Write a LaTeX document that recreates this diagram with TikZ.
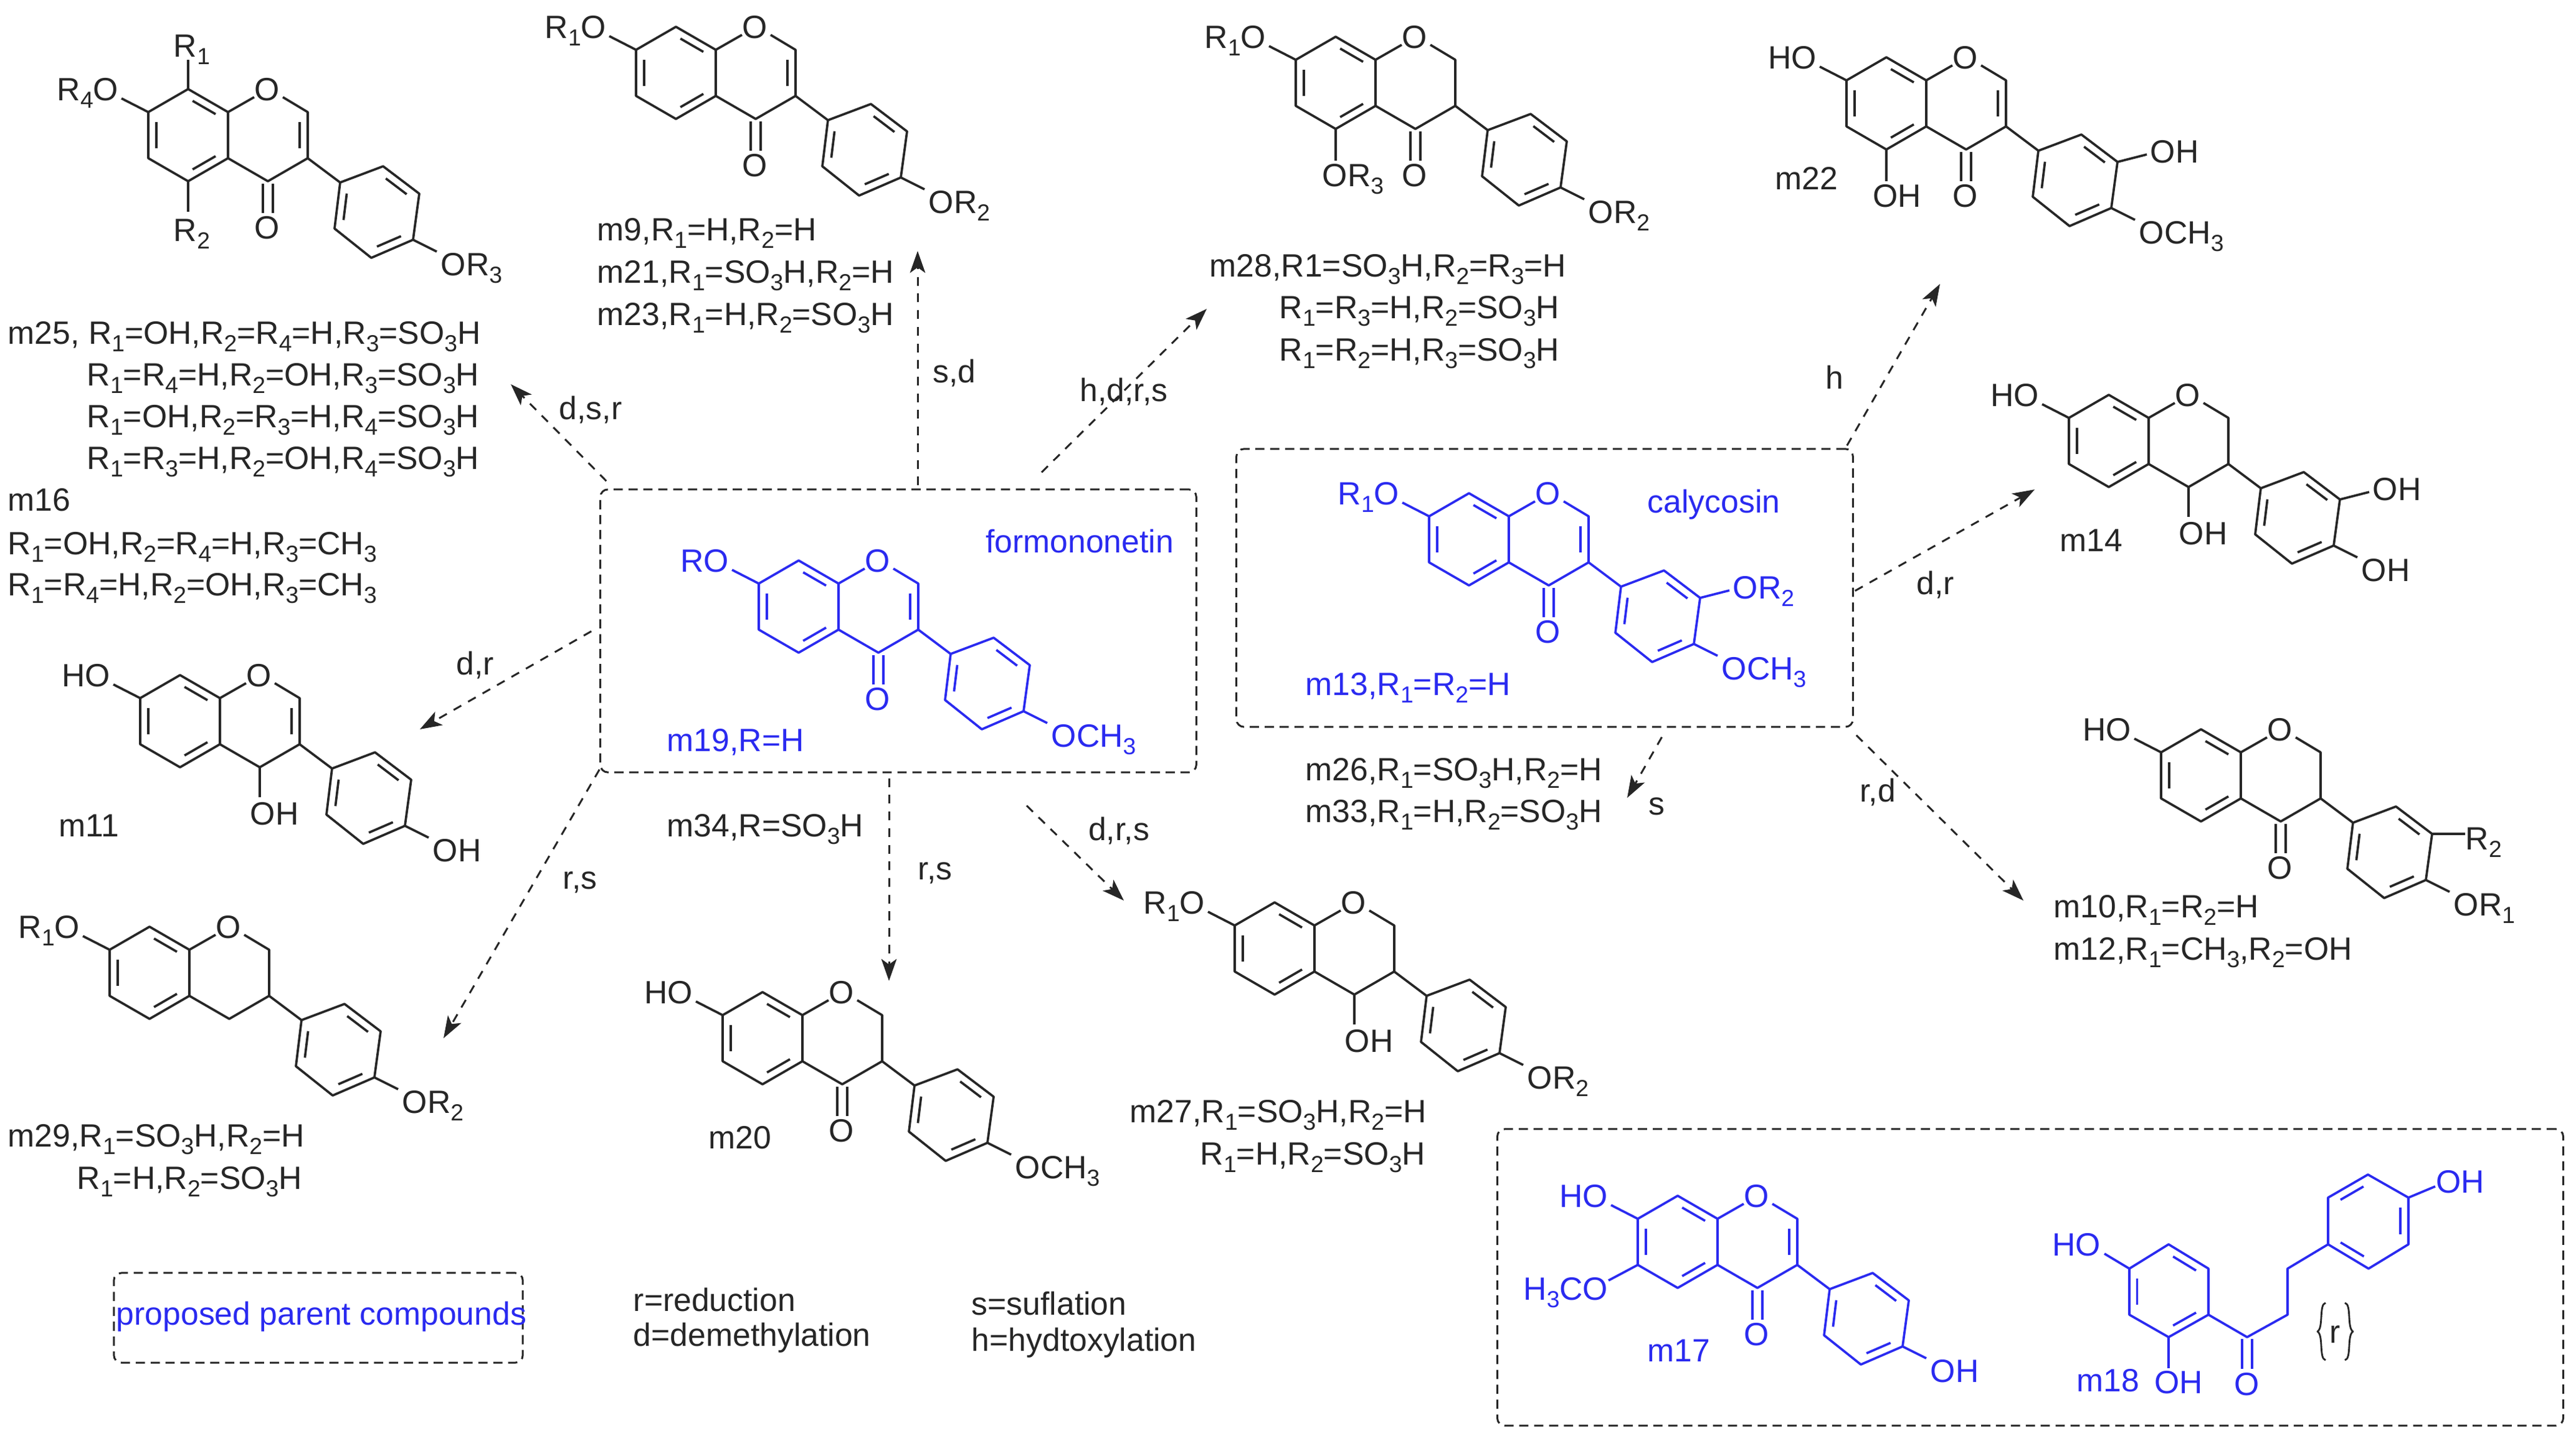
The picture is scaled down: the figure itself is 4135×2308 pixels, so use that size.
\documentclass[tikz,border=0pt]{standalone}
\usepackage{fontspec}
\setmainfont{Liberation Sans}
\usetikzlibrary{calc,arrows.meta}
\definecolor{ink}{HTML}{262626}
\definecolor{molblue}{HTML}{2A2AF0}
\newcounter{nn}
\newcommand\ssub[1]{\raisebox{-0.42ex}{\fontsize{10.6}{12}\selectfont #1}}
\newcommand\RA{R\ssub{1}}
\newcommand\RB{R\ssub{2}}
\newcommand\RC{R\ssub{3}}
\newcommand\RD{R\ssub{4}}
\newcommand\SOH{SO\ssub{3}H}
\newcommand\CHT{CH\ssub{3}}
\newcommand\tx[3][]{\stepcounter{nn}\node[lbl,#1] (n\arabic{nn}) at #2 {#3};}
\newcommand\dbl[3]{\draw ($(#1)!.14!(#2)!.2!(#3)$) -- ($(#2)!.14!(#1)!.2!(#3)$);}
\newcommand\atoms{%
  \coordinate (a1) at (0,0);\coordinate (a2) at (-64,-37);\coordinate (a3) at (-128,0);
  \coordinate (a4) at (-128,74);\coordinate (a5) at (-64,111);\coordinate (a6) at (0,74);
  \coordinate (c4) at (64,111);\coordinate (c3) at (128,74);\coordinate (c2) at (128,0);
  \coordinate (b1) at (180,113);\coordinate (b2) at (249,87);\coordinate (b3) at (307,131);
  \coordinate (b4) at (297,205);\coordinate (b5) at (230,234);\coordinate (b6) at (171,187);
  \coordinate (ca) at (-64,37);\coordinate (cp) at (64,37);\coordinate (cb) at (238,160);}
% ring A, pyran ring, ring B and the ring oxygen
\newcommand\molframe{%
  \draw (a1)--(a2)--(a3)--(a4)--(a5)--(a6)--cycle;
  \dbl{a1}{a2}{ca}\dbl{a3}{a4}{ca}\dbl{a5}{a6}{ca}
  \draw (a1) -- (42,-24);
  \draw (88,-24) -- (c2) -- (c3) -- (c4) -- (a6);
  \tx{(63,-37)}{O}
  \draw (c3) -- (b1);
  \draw (b1) -- (b2) -- (b3) -- (b4) -- (b5) -- (b6) -- cycle;
  \dbl{b1}{b6}{cb}\dbl{b2}{b3}{cb}\dbl{b4}{b5}{cb}}
\newcommand\ene{\dbl{c2}{c3}{cp}}
\newcommand\keto{\draw (56,115) -- (56,162);\draw (72,115) -- (72,162);\tx{(63,185)}{O}}
\newcommand\cOH{\draw (c4) -- ++(0,48);\tx[anchor=base west]{(47,185)}{OH}}
\newcommand\sevenO[1]{\draw (a3) -- ++(-43,-22);\tx[anchor=base east]{(-174,-37)}{#1}}
\newcommand\fourO[1]{\draw (b4) -- ++(38,19);\tx[anchor=base west]{(340,244)}{#1}}
\newcommand\threeO[1]{\draw (b3) -- ++(47,-12);\tx[anchor=base west]{(358,114)}{#1}}
\newcommand\mol[3]{\begin{scope}[shift={(#1,#2)}]\atoms\molframe #3\end{scope}}
\tikzset{
  lbl/.style={inner sep=0pt,anchor=base,yshift=-5.3pt,font=\fontsize{14.7}{18}\selectfont},
  arr/.style={ink,line width=0.85pt,dash pattern=on 4pt off 3.6pt,-{Stealth[length=10pt,width=7pt,inset=2.5pt]}},
  boxd/.style={draw=ink,line width=0.85pt,dash pattern=on 4.2pt off 2.6pt,rounded corners=3.4pt,inner sep=0pt}
}
\begin{document}
\begin{tikzpicture}[x=0.01cm,y=-0.01cm,color=ink,line width=1.05pt,line join=round]
\useasboundingbox (0,0) rectangle (4135,2308);
\fill[white] (0,0) rectangle (4135,2308);

% boxes
\node[boxd,minimum width=9.56cm,minimum height=4.54cm] (formbox) at (1442,1013) {};
\node[boxd,minimum width=9.89cm,minimum height=4.46cm] (calybox) at (2479.5,944) {};
\node[boxd,minimum width=17.10cm,minimum height=4.76cm] (parentbox) at (3259,2051) {};
\node[boxd,minimum width=6.56cm,minimum height=1.44cm] (propbox) at (511,2116) {};

% molecules
\mol{366}{180}{\ene\keto\sevenO{\RD O}\fourO{OR\ssub{3}}
  \draw (a2) -- ++(0,-47);\draw (a5) -- ++(0,49);
  \tx{(-58,-107)}{\RA}\tx{(-58,189)}{\RB}}
\mol{1149}{80}{\ene\keto\sevenO{\RA O}\fourO{OR\ssub{2}}}
\mol{2208}{96}{\keto\sevenO{\RA O}\fourO{OR\ssub{2}}
  \draw (a5) -- ++(0,51);\tx{(-36,185)}{OR\ssub{3}}}
\mol{3092}{129}{\ene\keto\sevenO{HO}\fourO{O\CHT}\threeO{OH}
  \draw (a5) -- ++(0,51);\tx{(-47,185)}{OH}}
\mol{3449}{671}{\cOH\sevenO{HO}\fourO{OH}\threeO{OH}}
\mol{353}{1121}{\ene\cOH\sevenO{HO}\fourO{OH}}
\mol{304}{1525}{\sevenO{\RA O}\fourO{OR\ssub{2}}}
\mol{1288}{1630}{\keto\sevenO{HO}\fourO{O\CHT}}
\mol{2110}{1486}{\cOH\sevenO{\RA O}\fourO{OR\ssub{2}}}
\mol{3597}{1208}{\keto\sevenO{HO}\fourO{OR\ssub{1}}
  \draw (b3) -- ++(53,0);\tx[anchor=base west]{(359,138)}{\RB}}

\begin{scope}[color=molblue]
\mol{1346}{937}{\ene\keto\sevenO{RO}\fourO{O\CHT}}
\mol{2422}{829}{\ene\keto\sevenO{\RA O}\fourO{O\CHT}\threeO{OR\ssub{2}}}
\mol{2757}{1957}{\ene\keto\sevenO{HO}\fourO{OH}
  \draw (a4) -- ++(-47,25);\tx[anchor=base east]{(-174,112)}{H\ssub{3}CO}}
% m18
\coordinate (p1) at (3418,2037);\coordinate (p2) at (3481,1998);\coordinate (p3) at (3545,2037);
\coordinate (p4) at (3545,2111);\coordinate (p5) at (3481,2147);\coordinate (p6) at (3418,2111);
\coordinate (pc) at (3481,2074);
\coordinate (q1) at (3737,1998);\coordinate (q2) at (3737,1923);\coordinate (q3) at (3801,1886);
\coordinate (q4) at (3866,1923);\coordinate (q5) at (3866,1998);\coordinate (q6) at (3802,2037);
\coordinate (qc) at (3801,1961);
\draw (p1)--(p2)--(p3)--(p4)--(p5)--(p6)--cycle;
\dbl{p2}{p3}{pc}\dbl{p1}{p6}{pc}\dbl{p4}{p5}{pc}
\draw (q1)--(q2)--(q3)--(q4)--(q5)--(q6)--cycle;
\dbl{q2}{q3}{qc}\dbl{q4}{q5}{qc}\dbl{q6}{q1}{qc}
\draw (p4) -- (3607,2147) -- (3672,2111) -- (3672,2037) -- (q1);
\draw (3599,2150) -- (3599,2198);\draw (3615,2150) -- (3615,2198);
\draw (p5) -- (3481,2197);
\draw (p1) -- (3378,2013);
\draw (q4) -- (3909,1905);
\tx{(3607,2222)}{O}
\tx{(3497,2219)}{OH}
\tx{(3333,1998)}{HO}
\tx{(3949,1897)}{OH}
\tx{(3384,2216)}{m18}
\tx{(2695,2168)}{m17}
\tx{(1733,869)}{formononetin}
\tx[anchor=base west]{(1069,1188)}{m19,R=H}
\tx{(2751,805)}{calycosin}
\tx[anchor=base west]{(2094,1098)}{m13,\RA=\RB=H}
\tx{(516,2109)}{proposed parent compounds}
\end{scope}

% {r}
\tx{(3748,2138)}{r}
\draw[line width=0.8pt] (3733,2092) .. controls (3722,2094) and (3730,2132) .. (3720,2138)
  .. controls (3730,2144) and (3722,2182) .. (3733,2184);
\draw[line width=0.8pt] (3764,2092) .. controls (3775,2094) and (3767,2132) .. (3777,2138)
  .. controls (3767,2144) and (3775,2182) .. (3764,2184);

% text blocks
\tx[anchor=base west]{(11,534)}{m25, \RA=OH,\RB=\RD=H,\RC=\SOH}
\tx[anchor=base west]{(138,601)}{\RA=\RD=H,\RB=OH,\RC=\SOH}
\tx[anchor=base west]{(138,668)}{\RA=OH,\RB=\RC=H,\RD=\SOH}
\tx[anchor=base west]{(138,735)}{\RA=\RC=H,\RB=OH,\RD=\SOH}
\tx[anchor=base west]{(11,802)}{m16}
\tx[anchor=base west]{(11,872)}{\RA=OH,\RB=\RD=H,\RC=\CHT}
\tx[anchor=base west]{(11,938)}{\RA=\RD=H,\RB=OH,\RC=\CHT}
\tx[anchor=base west]{(957,368)}{m9,\RA=H,\RB=H}
\tx[anchor=base west]{(957,436)}{m21,\RA=\SOH,\RB=H}
\tx[anchor=base west]{(957,504)}{m23,\RA=H,\RB=\SOH}
\tx[anchor=base west]{(1940,426)}{m28,R1=\SOH,\RB=\RC=H}
\tx[anchor=base west]{(2052,493)}{\RA=\RC=H,\RB=\SOH}
\tx[anchor=base west]{(2052,561)}{\RA=\RB=H,\RC=\SOH}
\tx{(2900,286)}{m22}
\tx{(3357,867)}{m14}
\tx{(143,1325)}{m11}
\tx{(1188,1826)}{m20}
\tx[anchor=base west]{(1069,1325)}{m34,R=\SOH}
\tx[anchor=base west]{(2094,1235)}{m26,\RA=\SOH,\RB=H}
\tx[anchor=base west]{(2094,1302)}{m33,\RA=H,\RB=\SOH}
\tx[anchor=base west]{(3295,1455)}{m10,\RA=\RB=H}
\tx[anchor=base west]{(3295,1523)}{m12,\RA=\CHT,\RB=OH}
\tx[anchor=base west]{(1812,1784)}{m27,\RA=\SOH,\RB=H}
\tx[anchor=base west]{(1925,1852)}{\RA=H,\RB=\SOH}
\tx[anchor=base west]{(11,1823)}{m29,\RA=\SOH,\RB=H}
\tx[anchor=base west]{(122,1891)}{\RA=H,\RB=\SOH}
\tx[anchor=base west]{(1015,2087)}{r=reduction}
\tx[anchor=base west]{(1015,2143)}{d=demethylation}
\tx[anchor=base west]{(1558,2093)}{s=suflation}
\tx[anchor=base west]{(1558,2151)}{h=hydtoxylation}

% connector ends
\coordinate (e1) at (820,617);
\coordinate (e2) at (1473,403);
\coordinate (e3) at (1937,496);
\coordinate (e4) at (3114,456);
\coordinate (e5) at (3266,786);
\coordinate (e6) at (2612,1281);
\coordinate (e7) at (3248,1446);
\coordinate (e8) at (1804,1446);
\coordinate (e9) at (1427,1575);
\coordinate (e10) at (712,1667);
\coordinate (e11) at (674,1171);

% connectors
\draw[arr] ([shift={(11,-12)}]formbox.north west) -- (e1);
\draw[arr] ([shift={(31,-5)}]formbox.north) -- (e2);
\draw[arr] ([shift={(230,-26)}]formbox.north) -- (e3);
\draw[arr] ([shift={(-11,-4)}]calybox.north east) -- (e4);
\draw[arr] ([shift={(2,-220)}]calybox.south east) -- (e5);
\draw[arr] ([shift={(188,15)}]calybox.south) -- (e6);
\draw[arr] ([shift={(4,12)}]calybox.south east) -- (e7);
\draw[arr] ([shift={(206,52)}]formbox.south) -- (e8);
\draw[arr] ([shift={(-15,8)}]formbox.south) -- (e9);
\draw[arr] ([shift={(0,-6)}]formbox.south west) -- (e10);
\draw[arr] ([shift={(-13,-228)}]formbox.south west) -- (e11);

% connector labels
\tx{(948,655)}{d,s,r}
\tx{(1532,596)}{s,d}
\tx{(1804,626)}{h,d,r,s}
\tx{(2945,606)}{h}
\tx{(3107,936)}{d,r}
\tx{(2659,1290)}{s}
\tx{(3014,1269)}{r,d}
\tx{(1796,1331)}{d,r,s}
\tx{(1501,1394)}{r,s}
\tx{(931,1409)}{r,s}
\tx{(763,1065)}{d,r}
\end{tikzpicture}
\end{document}
